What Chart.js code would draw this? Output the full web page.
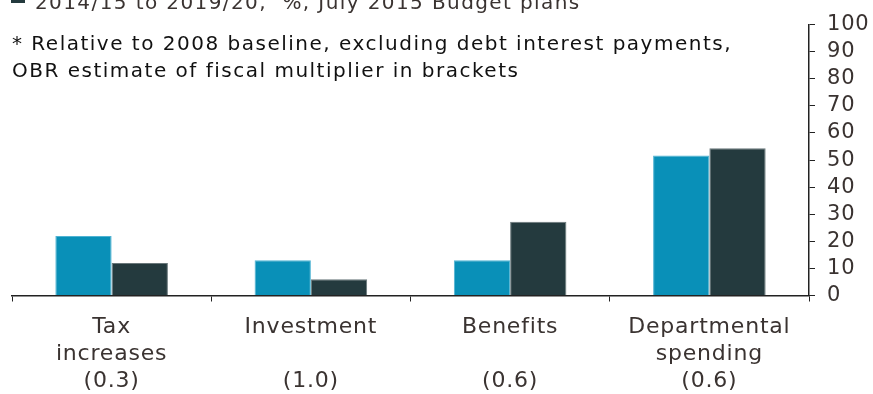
<!DOCTYPE html>
<html>
<head>
<meta charset="utf-8">
<script src="https://cdn.jsdelivr.net/npm/chart.js@4/dist/chart.umd.min.js"></script>
<style>
    html, body { margin: 0; padding: 0; background: #ffffff; }
    #wrap { position: relative; width: 873px; height: 394px; }
</style>
</head>
<body>
<div id="wrap"><canvas id="fiscalChart"></canvas></div>
<script>
    // Categories (with OBR fiscal multiplier in brackets)
    const categories = [
        ['Tax', 'increases', '(0.3)'],
        ['Investment', '', '(1.0)'],
        ['Benefits', '', '(0.6)'],
        ['Departmental', 'spending', '(0.6)']
    ];
    const earlierValues = [22, 13, 13, 51.7];
    const budgetValues = [12, 6, 27.2, 54.4];
    const yTicks = [0, 10, 20, 30, 40, 50, 60, 70, 80, 90, 100];

    const TEAL = '#0990b8';
    const DARK = '#243a3e';
    const INK = '#3a3331';

    // slightly wider tracking for all axis text
    const tracking = {
        id: 'tracking',
        beforeLayout(chart) { chart.ctx.letterSpacing = '0.8px'; },
        beforeDraw(chart) { chart.ctx.letterSpacing = '0.8px'; }
    };

    // Legend line (partly above the canvas) and footnote text
    const headerText = {
        id: 'headerText',
        afterDraw(chart) {
            const c = chart.ctx;
            c.save();
            c.fillStyle = DARK;
            c.fillRect(11, 0, 14, 3);
            c.fillStyle = INK;
            c.font = '20px "DejaVu Sans"';
            c.letterSpacing = '1.4px';
            c.textBaseline = 'alphabetic';
            c.fillText('2014/15 to 2019/20,  %, July 2015 Budget plans', 35, 9);
            c.fillStyle = '#111111';
            c.letterSpacing = '1.5px';
            c.fillText('* Relative to 2008 baseline, excluding debt interest payments,', 12, 50);
            c.fillText('OBR estimate of fiscal multiplier in brackets', 12, 77);
            c.restore();
        }
    };

    new Chart(document.getElementById('fiscalChart'), {
        type: 'bar',
        data: {
            labels: categories,
            datasets: [{
                label: '2010/11 to 2014/15',
                data: earlierValues,
                backgroundColor: TEAL,
                borderColor: '#4fb3d3',
                borderWidth: 1,
                borderSkipped: 'bottom'
            }, {
                label: '2014/15 to 2019/20, %, July 2015 Budget plans',
                data: budgetValues,
                backgroundColor: DARK,
                borderColor: '#69777a',
                borderWidth: 1,
                borderSkipped: 'bottom'
            }]
        },
        options: {
            responsive: true,
            maintainAspectRatio: false,
            animation: false,
            layout: { padding: { left: 12, top: 17.5, right: 0, bottom: 0 } },
            datasets: { bar: { categoryPercentage: 0.565, barPercentage: 1 } },
            plugins: {
                legend: { display: false },
                tooltip: { enabled: false }
            },
            scales: {
                x: {
                    grid: {
                        offset: true,
                        drawOnChartArea: false,
                        drawTicks: true,
                        tickLength: 6,
                        color: '#222222'
                    },
                    border: { display: true, color: '#222222', width: 1.5 },
                    ticks: {
                        color: INK,
                        padding: 12,
                        maxRotation: 0,
                        autoSkip: false,
                        font: { family: 'DejaVu Sans', size: 22, lineHeight: 1.23 }
                    },
                    afterFit(scale) { scale.height = 98.5; }
                },
                y: {
                    position: 'right',
                    min: 0,
                    max: 100,
                    afterBuildTicks(scale) {
                        scale.ticks = yTicks.map(v => ({ value: v }));
                    },
                    grid: {
                        drawOnChartArea: false,
                        drawTicks: true,
                        tickLength: 6,
                        color: '#222222'
                    },
                    border: { display: true, color: '#222222', width: 1.5 },
                    ticks: {
                        color: INK,
                        padding: 12,
                        autoSkip: false,
                        font: { family: 'DejaVu Sans', size: 21 }
                    },
                    afterFit(scale) { scale.width = 64; }
                }
            }
        },
        plugins: [tracking, headerText]
    });
</script>
</body>
</html>
